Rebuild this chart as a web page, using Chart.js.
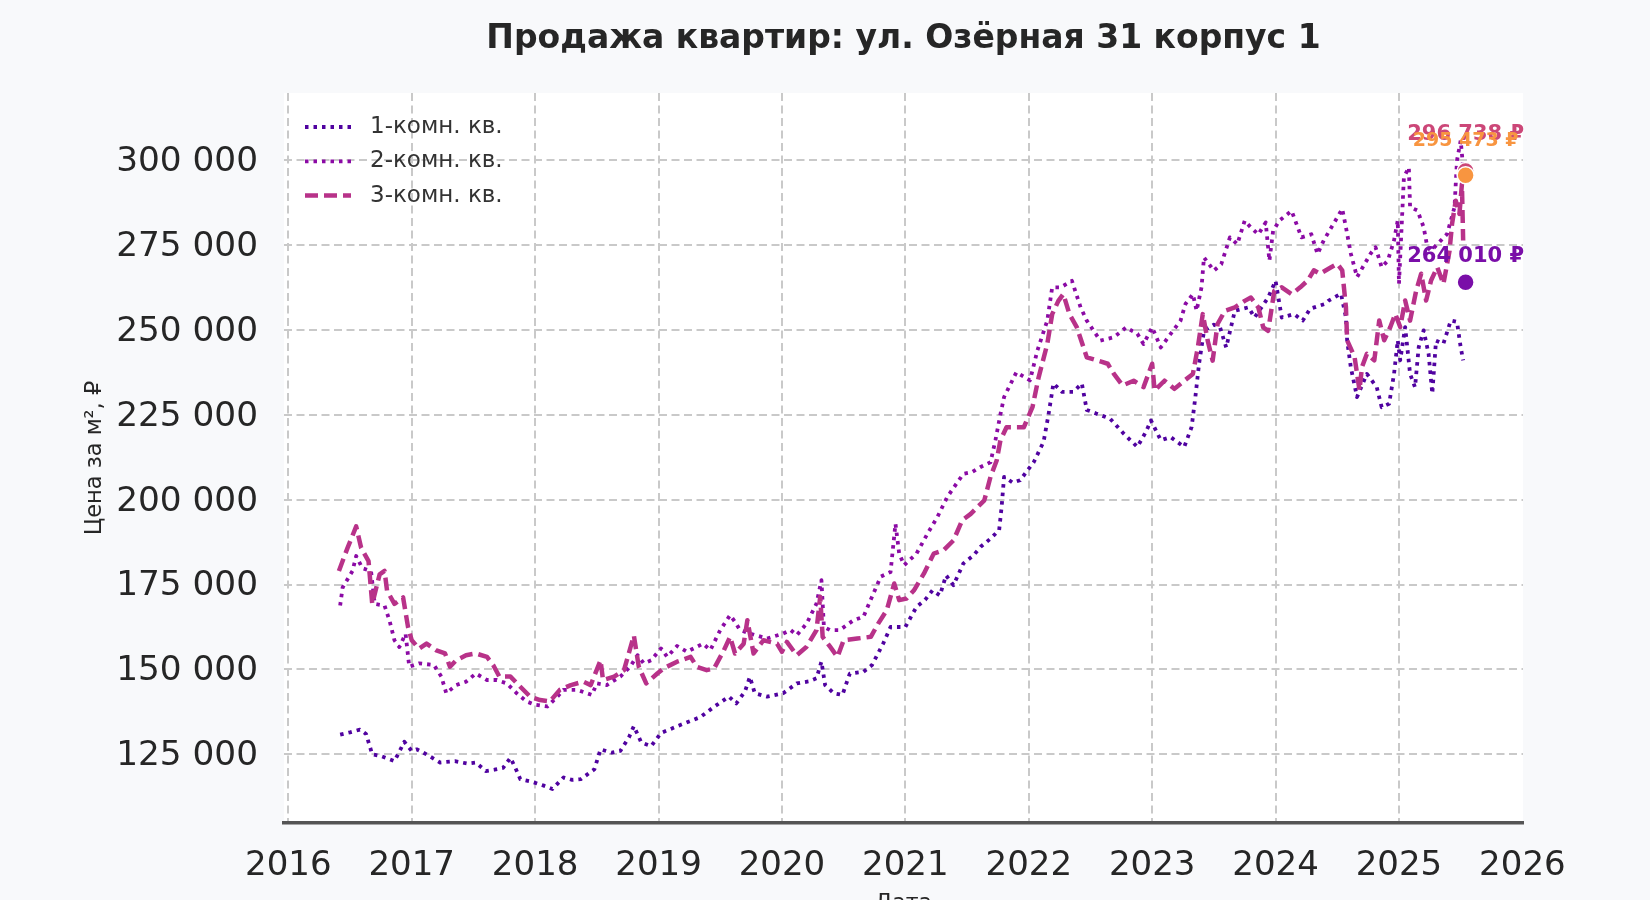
<!DOCTYPE html>
<html lang="ru">
<head>
<meta charset="utf-8">
<title>Продажа квартир: ул. Озёрная 31 корпус 1</title>
<script src="https://cdn.jsdelivr.net/npm/chart.js@4.4.1/dist/chart.umd.min.js"></script>
<style>
  html, body { margin: 0; padding: 0; background: #f8f9fb; overflow: hidden; }
  #wrap { width: 1650px; height: 935px; position: relative; }
</style>
</head>
<body>
<div id="wrap"><canvas id="chart"></canvas></div>
<script>
// Цены за м² по типам квартир (даты — десятичные годы)
const seriesLabels = ['1-комн. кв.', '2-комн. кв.', '3-комн. кв.'];

const dates1 = [2016.42, 2016.50, 2016.58, 2016.63, 2016.68, 2016.75, 2016.86, 2016.94, 2017.00, 2017.04,
  2017.12, 2017.23, 2017.35, 2017.45, 2017.52, 2017.60, 2017.67, 2017.74, 2017.80, 2017.84,
  2017.88, 2017.97, 2018.07, 2018.14, 2018.23, 2018.30, 2018.37, 2018.48, 2018.53, 2018.62,
  2018.69, 2018.76, 2018.80, 2018.86, 2018.94, 2019.02, 2019.10, 2019.20, 2019.34, 2019.45,
  2019.57, 2019.63, 2019.70, 2019.74, 2019.78, 2019.88, 2020.01, 2020.12, 2020.22, 2020.28,
  2020.32, 2020.35, 2020.42, 2020.49, 2020.55, 2020.66, 2020.73, 2020.82, 2020.88, 2020.94,
  2021.00, 2021.09, 2021.16, 2021.22, 2021.28, 2021.33, 2021.39, 2021.47, 2021.55, 2021.61,
  2021.69, 2021.76, 2021.78, 2021.80, 2021.87, 2021.93, 2022.04, 2022.12, 2022.16, 2022.20,
  2022.27, 2022.36, 2022.43, 2022.47, 2022.55, 2022.66, 2022.77, 2022.88, 2022.95, 2022.99,
  2023.07, 2023.15, 2023.26, 2023.32, 2023.35, 2023.38, 2023.42, 2023.50, 2023.55, 2023.60,
  2023.67, 2023.78, 2023.83, 2023.94, 2024.00, 2024.05, 2024.15, 2024.22, 2024.28, 2024.40,
  2024.43, 2024.53, 2024.57, 2024.58, 2024.61, 2024.66, 2024.74, 2024.82, 2024.86, 2024.92,
  2024.96, 2024.99, 2025.01, 2025.05, 2025.09, 2025.13, 2025.16, 2025.20, 2025.24, 2025.27,
  2025.30, 2025.36, 2025.42, 2025.47, 2025.50, 2025.52];
const room1 = [130800, 131500, 132300, 131000, 125000, 124500, 123000, 128700, 126000, 126500,
  125000, 122600, 123000, 122300, 122600, 120100, 120500, 121000, 124000, 121000,
  117700, 117000, 115800, 114800, 118200, 117500, 117700, 120600, 126500, 125500,
  126000, 130000, 133300, 128500, 127400, 131300, 132500, 134000, 136000, 139000,
  142000, 140000, 143500, 147800, 143000, 142000, 143000, 145900, 146500, 147400,
  152300, 145400, 143000, 142500, 148800, 149300, 151300, 157600, 162500, 162500,
  162500, 168400, 170500, 173300, 171800, 177700, 174800, 181200, 183500, 186100,
  188500, 191000, 197800, 206700, 205000, 205700, 211000, 217000, 225000, 234200,
  231700, 231700, 234200, 226400, 225300, 223800, 219400, 215500, 220000, 223300,
  217500, 218400, 215500, 221400, 230200, 240000, 249700, 251500, 250700, 244800,
  255600, 256600, 253600, 259500, 264400, 253600, 254600, 252700, 256200, 257600,
  258600, 260600, 253700, 246800, 238900, 230200, 237000, 233100, 227200, 228200,
  237000, 246900, 241000, 250800, 237000, 233100, 244900, 249800, 242900, 231200,
  246800, 245900, 252700, 252300, 244900, 241000];

const dates2 = [2016.42, 2016.44, 2016.52, 2016.55, 2016.60, 2016.67, 2016.70, 2016.78, 2016.82, 2016.86,
  2016.90, 2016.95, 2016.98, 2017.06, 2017.18, 2017.24, 2017.28, 2017.36, 2017.44, 2017.52,
  2017.61, 2017.69, 2017.77, 2017.85, 2017.93, 2018.00, 2018.10, 2018.18, 2018.23, 2018.34,
  2018.46, 2018.50, 2018.58, 2018.69, 2018.77, 2018.83, 2018.88, 2018.94, 2019.02, 2019.07,
  2019.15, 2019.23, 2019.36, 2019.42, 2019.50, 2019.58, 2019.62, 2019.66, 2019.74, 2019.88,
  2020.01, 2020.07, 2020.12, 2020.20, 2020.28, 2020.32, 2020.34, 2020.39, 2020.47, 2020.58,
  2020.66, 2020.73, 2020.80, 2020.88, 2020.92, 2020.95, 2020.99, 2021.09, 2021.18, 2021.26,
  2021.34, 2021.47, 2021.54, 2021.61, 2021.69, 2021.73, 2021.77, 2021.80, 2021.90, 2022.01,
  2022.07, 2022.15, 2022.19, 2022.26, 2022.35, 2022.42, 2022.47, 2022.58, 2022.69, 2022.79,
  2022.88, 2022.93, 2023.00, 2023.07, 2023.15, 2023.23, 2023.27, 2023.33, 2023.36, 2023.40,
  2023.42, 2023.50, 2023.56, 2023.63, 2023.69, 2023.75, 2023.80, 2023.86, 2023.92, 2023.95,
  2023.98, 2024.03, 2024.13, 2024.21, 2024.29, 2024.34, 2024.39, 2024.47, 2024.54, 2024.57,
  2024.61, 2024.66, 2024.77, 2024.81, 2024.86, 2024.91, 2024.96, 2024.99, 2025.00, 2025.04,
  2025.08, 2025.09, 2025.15, 2025.20, 2025.23, 2025.26, 2025.34, 2025.39, 2025.45, 2025.47,
  2025.50, 2025.52];
const room2 = [168800, 174100, 179000, 183400, 179800, 179000, 169300, 168800, 164400, 158600,
  156600, 160500, 150800, 151800, 151300, 147900, 143000, 145400, 146400, 148800,
  146900, 146900, 145900, 143000, 140600, 139600, 139100, 142000, 144000, 144000,
  142500, 145900, 145400, 147900, 150800, 154200, 151800, 152700, 156200, 153700,
  156900, 155200, 157600, 155700, 161600, 166000, 164000, 161600, 160600, 159100,
  160600, 161600, 160100, 163500, 169400, 176300, 162500, 161600, 161600, 164500,
  165500, 171400, 177300, 178700, 192900, 184100, 180700, 184100, 190000, 194900,
  200800, 207600, 208100, 209600, 211000, 217500, 225000, 230200, 237500, 235100,
  243900, 252700, 262500, 262500, 264400, 256600, 252700, 246800, 247800, 250700,
  248800, 245800, 250700, 244800, 248800, 252700, 257600, 260500, 255600, 262500,
  271300, 267400, 269300, 277200, 275200, 282100, 280100, 278100, 281600, 270300,
  279100, 282100, 285000, 277200, 278100, 272300, 276300, 281200, 285600, 280200,
  272400, 265500, 272400, 274300, 268400, 270400, 276300, 282200, 263500, 294900,
  297800, 286100, 285100, 280200, 274300, 273300, 276300, 278200, 286100, 299800,
  305700, 297800];

const dates3 = [2016.41, 2016.48, 2016.55, 2016.59, 2016.65, 2016.68, 2016.74, 2016.78, 2016.80, 2016.86,
  2016.93, 2016.97, 2017.00, 2017.06, 2017.12, 2017.20, 2017.27, 2017.31, 2017.36, 2017.44,
  2017.52, 2017.61, 2017.66, 2017.71, 2017.80, 2017.88, 2017.96, 2018.04, 2018.12, 2018.20,
  2018.29, 2018.39, 2018.45, 2018.53, 2018.55, 2018.64, 2018.72, 2018.80, 2018.84, 2018.90,
  2018.99, 2019.04, 2019.15, 2019.26, 2019.31, 2019.39, 2019.45, 2019.53, 2019.58, 2019.62,
  2019.69, 2019.72, 2019.77, 2019.85, 2019.96, 2020.00, 2020.04, 2020.12, 2020.20, 2020.28,
  2020.31, 2020.33, 2020.39, 2020.45, 2020.50, 2020.61, 2020.72, 2020.78, 2020.85, 2020.91,
  2020.95, 2021.01, 2021.07, 2021.15, 2021.23, 2021.31, 2021.39, 2021.46, 2021.53, 2021.64,
  2021.69, 2021.74, 2021.77, 2021.82, 2021.96, 2022.03, 2022.08, 2022.15, 2022.19, 2022.24,
  2022.28, 2022.33, 2022.39, 2022.47, 2022.56, 2022.64, 2022.69, 2022.76, 2022.85, 2022.93,
  2023.00, 2023.02, 2023.10, 2023.18, 2023.26, 2023.33, 2023.37, 2023.41, 2023.45, 2023.49,
  2023.53, 2023.59, 2023.67, 2023.75, 2023.80, 2023.86, 2023.90, 2023.94, 2023.99, 2024.05,
  2024.13, 2024.20, 2024.26, 2024.31, 2024.36, 2024.45, 2024.50, 2024.54, 2024.57, 2024.58,
  2024.64, 2024.68, 2024.70, 2024.74, 2024.80, 2024.84, 2024.88, 2024.93, 2024.97, 2025.01,
  2025.05, 2025.09, 2025.14, 2025.18, 2025.22, 2025.26, 2025.31, 2025.36, 2025.41, 2025.43,
  2025.46, 2025.49, 2025.51, 2025.52];
const room3 = [179000, 185800, 192100, 185800, 181900, 169300, 178000, 179000, 173200, 169300,
  171200, 162500, 158600, 156100, 157600, 155600, 154700, 150800, 152700, 154200,
  154700, 153700, 151300, 147900, 147900, 144900, 142000, 141000, 140600, 144000,
  145400, 146400, 145400, 152700, 146900, 147900, 149800, 160000, 150800, 145900,
  148800, 150300, 152300, 153700, 150800, 149800, 150300, 155700, 159600, 154700,
  157600, 164500, 154700, 158600, 157600, 155200, 158100, 154200, 156700, 161600,
  171400, 159600, 156700, 153700, 158600, 159100, 159600, 163500, 167500, 175300,
  170400, 170900, 173300, 178200, 184100, 185100, 188000, 193900, 195800, 199800,
  206700, 211500, 217400, 221300, 221300, 227200, 236000, 245800, 254600, 258500,
  260500, 254600, 250700, 241900, 240900, 240000, 237000, 233600, 235000, 233100,
  240000, 232100, 235000, 232600, 235000, 237000, 244800, 254600, 246800, 240900,
  251700, 255600, 256600, 258500, 259500, 256600, 250700, 249700, 261500, 262500,
  260500, 262500, 264500, 267500, 266500, 268400, 269400, 267500, 256700, 246900,
  242000, 232200, 239000, 242900, 241000, 252700, 246900, 250800, 254700, 250800,
  258600, 252700, 261600, 266500, 258600, 264500, 268400, 263500, 273300, 281200,
  288000, 284100, 292900, 276300];

// Отмеченные последние значения
const endDate = 2025.54;
const endValues = [296738, 295473, 264010];
const endLabels = ['296 738 ₽', '295 473 ₽', '264 010 ₽'];

const xTicks = [2016, 2017, 2018, 2019, 2020, 2021, 2022, 2023, 2024, 2025, 2026];
const yTicks = [125000, 150000, 175000, 200000, 225000, 250000, 275000, 300000];

const FONT = "'DejaVu Sans', sans-serif";
const TEXT = '#262626';
const GRID = '#c9c9c9';
const lineColors = ['#5002a0', '#8b0aa5', '#b83289'];
const lineDashes = [[3.5, 5], [3.5, 5], [13, 6]];
const lineWidths = [3.8, 3.8, 4.5];
const endColors = ['#cc4778', '#f89540', '#7a0ea8'];
const endFontSizes = [21, 19, 21];
const endOffsets = [-36, -34, -26];

function toPoints(xs, ys) {
    return xs.map((x, i) => ({ x: x, y: ys[i] }));
}

function fmtThousands(v) {
    return String(v).replace(/\B(?=(\d{3})+(?!\d))/g, ' ');
}

const plotBackground = {
    id: 'plotBackground',
    beforeDraw(chart) {
        const { ctx, chartArea: a } = chart;
        ctx.save();
        ctx.fillStyle = '#ffffff';
        ctx.fillRect(a.left, a.top, a.right - a.left, a.bottom - a.top);
        ctx.restore();
    }
};

// легенда внутри области графика, без рамки
const innerLegend = {
    id: 'innerLegend',
    afterDraw(chart) {
        const { ctx, chartArea: a } = chart;
        ctx.save();
        ctx.font = `23px ${FONT}`;
        ctx.textBaseline = 'middle';
        seriesLabels.forEach((label, i) => {
            const ds = chart.data.datasets[i];
            const y = a.top + 34 + i * 34.3;
            ctx.beginPath();
            ctx.setLineDash(ds.borderDash);
            ctx.lineWidth = ds.borderWidth;
            ctx.strokeStyle = ds.borderColor;
            ctx.moveTo(a.left + 21, y);
            ctx.lineTo(a.left + 67, y);
            ctx.stroke();
            ctx.setLineDash([]);
            ctx.fillStyle = '#333333';
            ctx.fillText(label, a.left + 86, y);
        });
        ctx.restore();
    }
};

const endValueLabels = {
    id: 'endValueLabels',
    afterDatasetsDraw(chart) {
        const meta = chart.getDatasetMeta(3);
        const { ctx } = chart;
        ctx.save();
        ctx.textAlign = 'center';
        ctx.textBaseline = 'middle';
        meta.data.forEach((pt, i) => {
            ctx.font = `bold ${endFontSizes[i]}px ${FONT}`;
            ctx.fillStyle = endColors[i];
            ctx.fillText(endLabels[i], pt.x, pt.y + endOffsets[i]);
        });
        ctx.restore();
    }
};

const lineDataset = (i, xs, ys) => ({
    label: seriesLabels[i],
    data: toPoints(xs, ys),
    borderColor: lineColors[i],
    borderWidth: lineWidths[i],
    borderDash: lineDashes[i],
    borderCapStyle: 'butt',
    borderJoinStyle: 'round',
    pointRadius: 0,
    tension: 0,
    fill: false,
    order: 3 - i
});

new Chart(document.getElementById('chart').getContext('2d'), {
    type: 'line',
    data: {
        datasets: [
            lineDataset(0, dates1, room1),
            lineDataset(1, dates2, room2),
            lineDataset(2, dates3, room3),
            {
                label: 'Последние значения',
                data: endValues.map(v => ({ x: endDate, y: v })),
                showLine: false,
                pointRadius: 8.5,
                pointBackgroundColor: endColors,
                pointBorderColor: '#ffffff',
                pointBorderWidth: 1.5,
                order: 0
            }
        ]
    },
    options: {
        responsive: true,
        maintainAspectRatio: false,
        animation: false,
        layout: { padding: { left: 0, right: 127, top: 0, bottom: 0 } },
        plugins: {
            legend: { display: false },
            tooltip: { enabled: false },
            title: {
                display: true,
                fullSize: false,
                text: 'Продажа квартир: ул. Озёрная 31 корпус 1',
                color: TEXT,
                font: { family: FONT, size: 33, weight: 'bold' },
                padding: { top: 20, bottom: 33.4 }
            }
        },
        scales: {
            x: {
                type: 'linear',
                min: 2015.965,
                max: 2026.005,
                afterBuildTicks: s => { s.ticks = xTicks.map(v => ({ value: v })); },
                afterFit: s => { s.height = 112; },
                ticks: {
                    autoSkip: false,
                    maxRotation: 0,
                    padding: 23,
                    color: TEXT,
                    font: { family: FONT, size: 34 },
                    callback: v => String(v)
                },
                grid: {
                    drawTicks: false,
                    lineWidth: 2,
                    color: c => (c.tick && c.tick.value === 2026 ? 'rgba(0,0,0,0)' : GRID)
                },
                border: { display: true, color: '#555555', width: 3.5, dash: [8, 4.5] },
                title: {
                    display: true,
                    text: 'Дата',
                    color: TEXT,
                    font: { family: FONT, size: 22 },
                    padding: { top: 0, bottom: 19 }
                }
            },
            y: {
                type: 'linear',
                min: 104800,
                max: 319700,
                afterBuildTicks: s => { s.ticks = yTicks.map(v => ({ value: v })); },
                afterFit: s => { s.width = 284; },
                ticks: {
                    padding: 26,
                    labelOffset: 2,
                    color: TEXT,
                    font: { family: FONT, size: 34.3 },
                    callback: v => fmtThousands(v)
                },
                grid: { drawTicks: false, lineWidth: 2, color: GRID },
                border: { display: false, dash: [8, 4.5] },
                title: {
                    display: true,
                    text: 'Цена за м², ₽',
                    color: TEXT,
                    font: { family: FONT, size: 22.5 },
                    padding: { top: 81.5, bottom: 0 }
                }
            }
        }
    },
    plugins: [plotBackground, innerLegend, endValueLabels]
});
</script>
</body>
</html>
